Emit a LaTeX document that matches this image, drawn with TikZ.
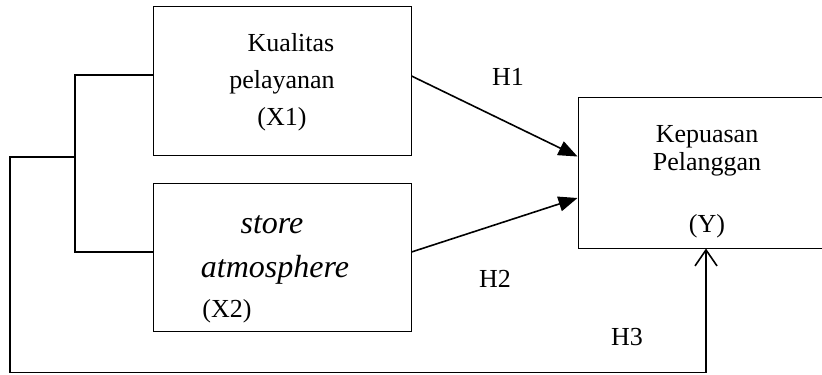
\documentclass[tikz,border=0pt]{standalone}
\usepackage{fontspec}
\setmainfont{Liberation Serif}
\usetikzlibrary{arrows.meta,calc}
\begin{document}
\begin{tikzpicture}[x=0.5pt,y=-0.5pt,
  box/.style={draw,line width=0.5pt,inner sep=0pt},
  conn/.style={line width=0.8pt},
  arr/.style={line width=0.8pt,-{Triangle[length=9.5pt,width=7.5pt]}},
  oarr/.style={line width=0.8pt,-{Straight Barb[length=8pt,width=11pt,line width=0.8pt]}},
  txt/.style={anchor=base,inner sep=0pt,font=\fontsize{13}{15}\selectfont},
  itxt/.style={anchor=base,inner sep=0pt,font=\fontsize{16}{19}\selectfont\itshape}]
\useasboundingbox (0,0) rectangle (822,374);
% boxes
\node[box,minimum width=129pt,minimum height=74pt] (x1) at (282,81) {};
\node[box,minimum width=129pt,minimum height=74pt] (x2) at (282,257) {};
\node[box,minimum width=130pt,minimum height=75.5pt] (y) at (708,172.5) {};
% texts
\node[txt] (t1) at (291,52) {Kualitas};
\node[txt] (t2) at (282,89) {pelayanan};
\node[txt] (t3) at (282,125) {(X1)};
\node[itxt] (t4) at (272,233) {store};
\node[itxt] (t5) at (275,277) {atmosphere};
\node[txt,anchor=base west] (t6) at (202,317) {(X2)};
\node[txt] (t7) at (707,142) {Kepuasan};
\node[txt] (t8) at (707,170) {Pelanggan};
\node[txt] (t9) at (707,232) {(Y)};
\node[txt] (h1) at (508,85) {H1};
\node[txt] (h2) at (495,287) {H2};
\node[txt] (h3) at (627,345) {H3};
% bracket
\coordinate (j1) at (75,75);
\coordinate (j2) at (75,252);
\coordinate (j0) at (75,157);
\coordinate (c1) at (10,157);
\coordinate (c2) at (10,372.5);
\coordinate (c3) at (706,372.5);
\draw[conn] ($(x1.west)+(0,-6)$) -- (j1) -- (j2) -- ($(x2.west)+(0,-5)$);
\draw[conn] (j0) -- (c1) -- (c2) -- (c3);
\draw[oarr] (c3) -- (c3 |- y.south);
% arrows
\draw[arr] ($(x1.east)+(0,-5)$) -- ($(y.west)+(0,-16)$);
\draw[arr] ($(x2.east)+(0,-5)$) -- ($(y.west)+(0,25.5)$);
\end{tikzpicture}
\end{document}
